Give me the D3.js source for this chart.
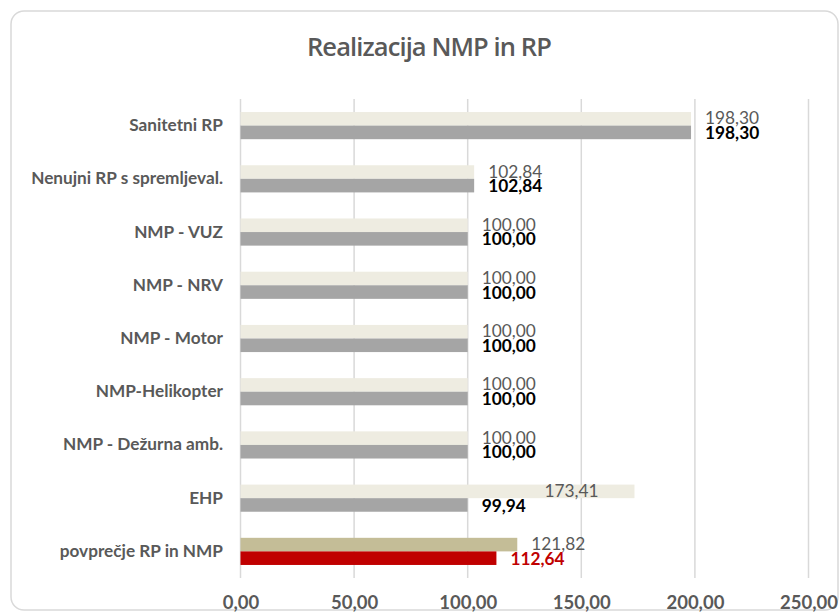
<!DOCTYPE html>
<html>
<head>
<meta charset="utf-8">
<script src="https://cdn.jsdelivr.net/npm/d3@7"></script>
<style>
html,body{margin:0;padding:0;background:#fff;}
svg{display:block;}
</style>
</head>
<body>
<svg id="chart" width="839" height="613"></svg>
<script>
const categories = ["Sanitetni RP","Nenujni RP s spremljeval.","NMP - VUZ","NMP - NRV","NMP - Motor","NMP-Helikopter","NMP - Dežurna amb.","EHP","povprečje RP in NMP"];
const series1 = [198.30,102.84,100.00,100.00,100.00,100.00,100.00,173.41,121.82];
const series2 = [198.30,102.84,100.00,100.00,100.00,100.00,100.00,99.94,112.64];
const xTicks = [0,50,100,150,200,250];
const title = "Realizacija NMP in RP";

const svg = d3.select("#chart");
const fmt = v => d3.format(".2f")(v).replace(".", ",");

// frame
svg.append("rect").attr("x",11).attr("y",11).attr("width",827).attr("height",599)
  .attr("rx",13).attr("ry",13).attr("fill","#fff").attr("stroke","#D9D9D9").attr("stroke-width",1.5);

svg.append("text").attr("x",429).attr("y",56).attr("text-anchor","middle")
  .attr("font-family","'Open Sans'").attr("font-weight",600).attr("font-size",25.5)
  .attr("letter-spacing",-0.9)
  .attr("fill","#595959").text(title);

const x = d3.scaleLinear().domain([0,250]).range([240.5,808.5]);
const y = d3.scaleBand().domain(categories).range([99,578]).paddingInner(0.49).paddingOuter(0.245);
const sub = d3.scaleBand().domain([0,1]).range([0,y.bandwidth()]);

// gridlines
svg.append("g").selectAll("line").data(xTicks).join("line")
  .attr("x1",d=>x(d)).attr("x2",d=>x(d)).attr("y1",99).attr("y2",578)
  .attr("stroke","#D9D9D9").attr("stroke-width",1.5);

// x axis labels
const xAxis = d3.axisBottom(x).tickValues(xTicks).tickSize(0).tickFormat(fmt);
const gx = svg.append("g").attr("transform","translate(0,609)").call(xAxis);
gx.select(".domain").remove();
gx.selectAll("text").attr("font-family","Lato").attr("font-weight",700).attr("font-size",18.5)
  .attr("fill","#595959").attr("y",0).attr("dy",0);

// y axis labels
const yAxis = d3.axisLeft(y).tickSize(0).tickPadding(0);
const gy = svg.append("g").attr("transform","translate(223,0)").call(yAxis);
gy.select(".domain").remove();
gy.selectAll("text").attr("font-family","Lato").attr("font-weight",700).attr("font-size",17.2)
  .attr("fill","#595959");

const last = categories.length - 1;
const c1 = (d,i) => i===last ? "#C4BD97" : "#EEECE1";
const c2 = (d,i) => i===last ? "#C00000" : "#A5A5A5";

svg.append("g").selectAll("rect").data(series1).join("rect")
  .attr("x",x(0)).attr("y",(d,i)=>y(categories[i])+sub(0))
  .attr("width",d=>x(d)-x(0)).attr("height",sub.bandwidth()).attr("fill",c1);
svg.append("g").selectAll("rect").data(series2).join("rect")
  .attr("x",x(0)).attr("y",(d,i)=>y(categories[i])+sub(1))
  .attr("width",d=>x(d)-x(0)).attr("height",sub.bandwidth()).attr("fill",c2);

// labels
const ehp = categories.indexOf("EHP");
svg.append("g").selectAll("text").data(series1).join("text")
  .attr("x",(d,i)=> i===ehp ? x(d)-90 : x(d)+14)
  .attr("y",(d,i)=>y(categories[i])+sub(0)+sub.bandwidth()/2-0.5)
  .attr("dy","0.35em")
  .attr("font-family","Lato").attr("font-size",17.3).attr("fill","#595959")
  .text(fmt);
svg.append("g").selectAll("text").data(series2).join("text")
  .attr("x",d=>x(Math.max(d,100))+14)
  .attr("y",(d,i)=>y(categories[i])+sub(1)+sub.bandwidth()/2+0.5)
  .attr("dy","0.35em")
  .attr("font-family","Lato").attr("font-weight",700).attr("font-size",17.3)
  .attr("fill",(d,i)=> i===last ? "#C00000" : "#000")
  .text(fmt);
</script>
</body>
</html>
